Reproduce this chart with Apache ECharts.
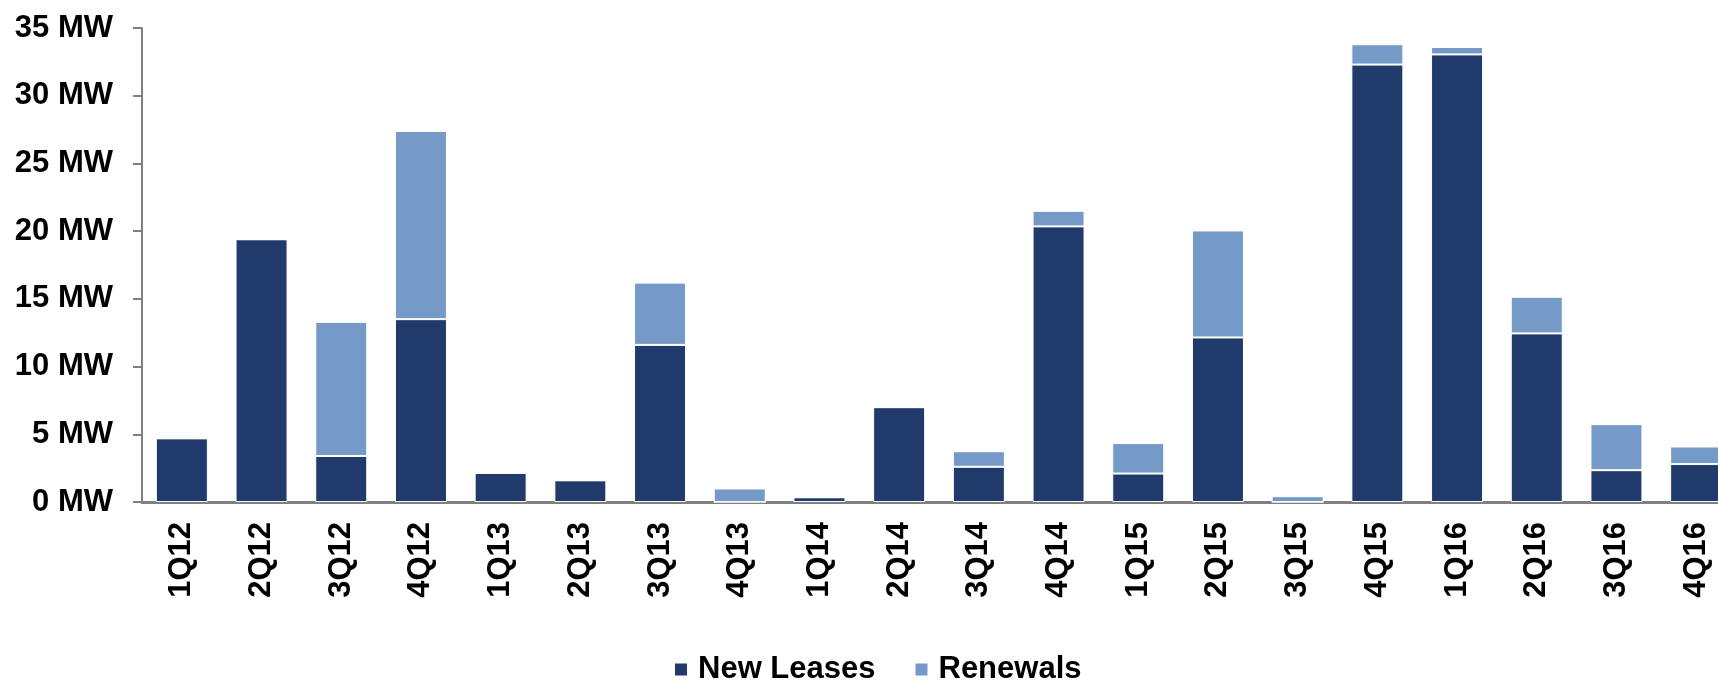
<!DOCTYPE html>
<html>
<head>
<meta charset="utf-8">
<script src="https://cdn.jsdelivr.net/npm/echarts@6/dist/echarts.min.js"></script>
<style>
html,body{margin:0;padding:0;background:#fff;overflow:hidden;width:1718px;height:681px;}
#c{width:1736px;height:681px;}
</style>
</head>
<body>
<div id="c"></div>
<script>
const categories = ['1Q12','2Q12','3Q12','4Q12','1Q13','2Q13','3Q13','4Q13','1Q14','2Q14','3Q14','4Q14','1Q15','2Q15','3Q15','4Q15','1Q16','2Q16','3Q16','4Q16'];
const newLeases = [4.7, 19.4, 3.4, 13.5, 2.15, 1.6, 11.6, 0, 0.35, 7.0, 2.6, 20.35, 2.1, 12.15, 0, 32.3, 33.05, 12.45, 2.35, 2.8];
const renewals  = [0, 0, 9.9, 13.9, 0, 0, 4.6, 1.0, 0, 0, 1.15, 1.15, 2.25, 7.9, 0.43, 1.5, 0.55, 2.7, 3.4, 1.3];
const yTicks = { min: 0, max: 35, interval: 5, suffix: ' MW' };

const FONT = "'Liberation Sans', Arial, sans-serif";
const chart = echarts.init(document.getElementById('c'), null, {renderer: 'canvas'});
chart.setOption({
  animation: false,
  backgroundColor: '#ffffff',
  grid: { left: 142, top: 28, bottom: 179, right: 0, containLabel: false },
  legend: {
    data: ['New Leases', 'Renewals'],
    left: 673,
    top: 654,
    padding: 0,
    icon: 'rect',
    itemWidth: 14,
    itemHeight: 14,
    itemGap: 38,
    textStyle: { fontFamily: FONT, fontSize: 31, fontWeight: 'bold', color: '#000', padding: [0,0,0,5] }
  },
  xAxis: {
    type: 'category',
    data: categories,
    axisLine: { lineStyle: { color: '#808080', width: 3 } },
    axisTick: { show: false },
    axisLabel: { rotate: 90, margin: 20, interval: 0, fontFamily: FONT, fontSize: 31, fontWeight: 'bold', color: '#000' }
  },
  yAxis: {
    type: 'value',
    min: yTicks.min, max: yTicks.max, interval: yTicks.interval,
    splitLine: { show: false },
    axisLine: { show: true, lineStyle: { color: '#808080', width: 2 } },
    axisTick: { show: true, length: 9, lineStyle: { color: '#808080', width: 2 } },
    axisLabel: { margin: 29, fontFamily: FONT, fontSize: 31, fontWeight: 'bold', color: '#000',
      formatter: v => v + yTicks.suffix }
  },
  series: [
    { name: 'New Leases', type: 'bar', stack: 't', data: newLeases, barWidth: 52,
      itemStyle: { color: '#1F3A6B', borderColor: '#ffffff', borderWidth: 1 } },
    { name: 'Renewals', type: 'bar', stack: 't', data: renewals, barWidth: 52,
      itemStyle: { color: '#759AC7', borderColor: '#ffffff', borderWidth: 1 } }
  ]
});
</script>
</body>
</html>
